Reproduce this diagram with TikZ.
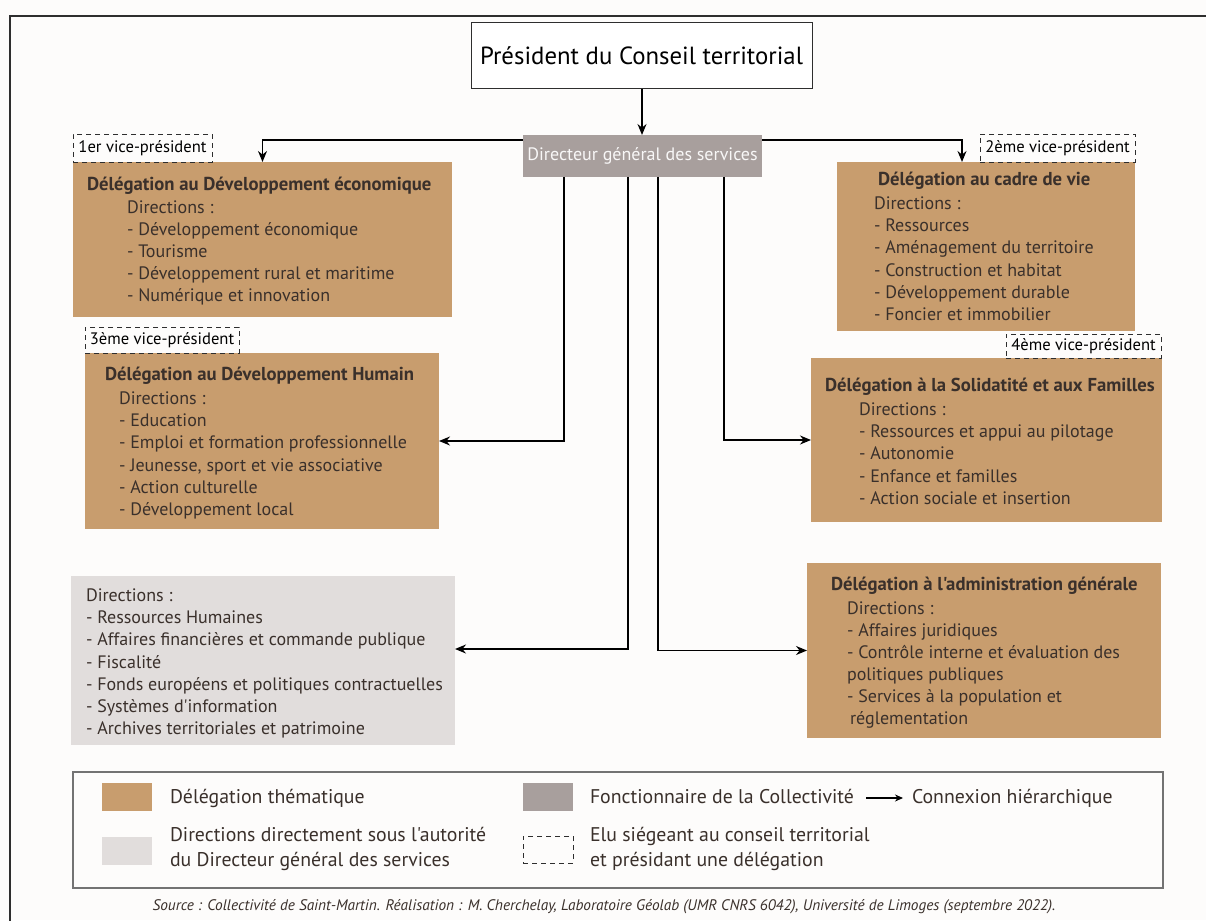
\documentclass[tikz,border=0pt]{standalone}
\usepackage{fontspec}
\setmainfont{PT Sans}[Ligatures=TeXOff]
\usetikzlibrary{arrows.meta,calc}
\definecolor{tanbox}{HTML}{C89D6E}
\definecolor{dgsgrey}{HTML}{A89F9D}
\definecolor{lightgrey}{HTML}{E1DDDC}
\definecolor{ink}{HTML}{3A302B}
\definecolor{bgc}{HTML}{FDFCFB}
\definecolor{framec}{HTML}{2E2E2E}
\begin{document}
\begin{tikzpicture}[x=1pt,y=-1pt,
  every node/.style={inner sep=0pt, outer sep=0pt},
  delbox/.style={fill=tanbox, draw=none, anchor=north west},
  dirbox/.style={fill=lightgrey, draw=none, anchor=north west},
  vpbox/.style={fill=bgc, draw=framec, dashed, dash pattern=on 5pt off 4pt, line width=0.8pt, anchor=north west, font=\fontsize{16.6}{18}\selectfont, text=black},
  title/.style={font=\bfseries\fontsize{18.7}{20}\selectfont, text=ink, anchor=west, text height=13pt, text depth=4pt},
  item/.style={font=\fontsize{18}{20}\selectfont, text=ink, anchor=west, text height=13pt, text depth=4pt},
  legtext/.style={font=\fontsize{19.8}{22}\selectfont, text=ink, anchor=west, text height=14pt, text depth=4pt},
  arr/.style={draw=black, line width=1.3pt, -{Stealth[length=11pt,width=9pt]}},
]
\useasboundingbox (0,0) rectangle (1206,920);
\fill[bgc] (0,0) rectangle (1206,920);
% outer frame
\draw[framec, line width=1.5pt] (10,925) -- (10,16) -- (1210,16);

% president
\node[draw=framec, line width=1pt, fill=white, anchor=north west, minimum width=341pt, minimum height=66pt] (pres) at (471,23) {};
\node[font=\fontsize{24.8}{28}\selectfont, text=black] (prest) at (pres.center) {Président du Conseil territorial};

% DGS
\node[fill=dgsgrey, anchor=north west, minimum width=239pt, minimum height=42pt] (dgs) at (523,135) {};
\node[font=\fontsize{18}{20}\selectfont, text=white!92!dgsgrey] (dgst) at (dgs.center) {Directeur général des services};

% Delegation 1
\node[delbox, minimum width=379pt, minimum height=155pt] (del1) at (73,162) {};
\node[title] (del1t) at (87,186) {Délégation au Développement économique};
\foreach \t [count=\i from 0] in {Directions :, - Développement économique, - Tourisme, - Développement rural et maritime, - Numérique et innovation}
  \node[item] (del1l\i) at (127,209+22*\i) {\t};

% Delegation cadre de vie
\node[delbox, minimum width=298pt, minimum height=169pt] (del2) at (837,162) {};
\node[title] (del2t) at (878,181) {Délégation au cadre de vie};
\foreach \t [count=\i from 0] in {Directions :, - Ressources, - Aménagement du territoire, - Construction et habitat, - Développement durable, - Foncier et immobilier}
  \node[item] (del2l\i) at (874,205+22.2*\i) {\t};

% Delegation humain
\node[delbox, minimum width=354pt, minimum height=176pt] (del3) at (85,353) {};
\node[title] (del3t) at (105,376) {Délégation au Développement Humain};
\foreach \t [count=\i from 0] in {Directions :, - Education, - Emploi et formation professionnelle, {- Jeunesse, sport et vie associative}, - Action culturelle, - Développement local}
  \node[item] (del3l\i) at (119,400+22.2*\i) {\t};

% Delegation solidarite
\node[delbox, minimum width=351pt, minimum height=164pt] (del4) at (811,358) {};
\node[title] (del4t) at (825,387) {Délégation à la Solidatité et aux Familles};
\foreach \t [count=\i from 0] in {Directions :, - Ressources et appui au pilotage, - Autonomie, - Enfance et familles, - Action sociale et insertion}
  \node[item] (del4l\i) at (859,411+22.2*\i) {\t};

% Directions under DGS
\node[dirbox, minimum width=384pt, minimum height=169pt] (dir) at (71,576) {};
\foreach \t [count=\i from 0] in {Directions :, - Ressources Humaines, - Affaires financières et commande publique, - Fiscalité, - Fonds européens et politiques contractuelles, - Systèmes d'information, - Archives territoriales et patrimoine}
  \node[item] (dirl\i) at (86,597+22.2*\i) {\t};

% Delegation administration
\node[delbox, minimum width=354pt, minimum height=175pt] (del5) at (807,563) {};
\node[title] (del5t) at (831,586) {Délégation à l'administration générale};
\node[item] (del5l0) at (847,610) {Directions :};
\node[item] (del5l1) at (847,632) {- Affaires juridiques};
\node[item] (del5l2) at (847,654) {- Contrôle interne et évaluation des};
\node[item] (del5l3) at (847,676) {politiques publiques};
\node[item] (del5l4) at (847,698) {- Services à la population et};
\node[item] (del5l5) at (850,720) {réglementation};

% VP boxes
\node[vpbox, minimum width=139pt, minimum height=28pt] (vp1) at (73,134) {1er vice-président};
\node[vpbox, minimum width=155pt, minimum height=28pt] (vp2) at (980,134) {2ème vice-président};
\node[vpbox, minimum width=154pt, minimum height=26pt] (vp3) at (85,327) {3ème vice-président};
\node[vpbox, minimum width=155pt, minimum height=24pt] (vp4) at (1006,334) {4ème vice-président};

% connectors
\draw[arr] (pres.south -| 642,0) -- (dgs.north -| 642,0);
\draw[arr] ([yshift=-5pt]dgs.north west) -| (del1.north);
\draw[arr] ([yshift=-5pt]dgs.north east) -| ([xshift=-24pt]del2.north);
\draw[arr] ([xshift=41pt]dgs.south west) |- (del3.east);
\draw[arr] ([xshift=105pt]dgs.south west) |- ([yshift=11.5pt]dir.east);
\draw[arr] ([xshift=135pt]dgs.south west) |- (del5.west);
\draw[arr] ([xshift=201pt]dgs.south west) |- (del4.west);

% legend
\node[draw=gray!90!black, line width=1.2pt, anchor=north west, minimum width=1090pt, minimum height=116pt] (leg) at (73,772) {};
\node[fill=tanbox, anchor=north west, minimum width=50pt, minimum height=28pt] (lsw1) at (102,783) {};
\node[legtext] (lt1) at (170,798) {Délégation thématique};
\node[fill=lightgrey, anchor=north west, minimum width=50pt, minimum height=28pt] (lsw2) at (102,837) {};
\node[legtext] (lt2a) at (170,836) {Directions directement sous l'autorité};
\node[legtext] (lt2b) at (170,861) {du Directeur général des services};
\node[fill=dgsgrey, anchor=north west, minimum width=50pt, minimum height=28pt] (lsw3) at (523,783) {};
\node[legtext] (lt3) at (590,798) {Fonctionnaire de la Collectivité};
\coordinate (la1) at (866,798);
\coordinate (la2) at (903,798);
\draw[draw=black, line width=1.1pt, -{Stealth[length=8pt,width=7pt]}] (la1) -- (la2);
\node[legtext] (lt4) at (912,798) {Connexion hiérarchique};
\node[draw=framec, dashed, dash pattern=on 5pt off 4pt, line width=0.8pt, anchor=north west, minimum width=50pt, minimum height=27pt] (lsw4) at (523,836) {};
\node[legtext] (lt5a) at (590,836) {Elu siégeant au conseil territorial};
\node[legtext] (lt5b) at (590,861) {et présidant une délégation};

% source
\node[font=\itshape\fontsize{15.3}{17}\selectfont, text=ink] (src) at (604,907) {Source : Collectivité de Saint-Martin. Réalisation : M. Cherchelay, Laboratoire Géolab (UMR CNRS 6042), Université de Limoges (septembre 2022).};
\end{tikzpicture}
\end{document}
